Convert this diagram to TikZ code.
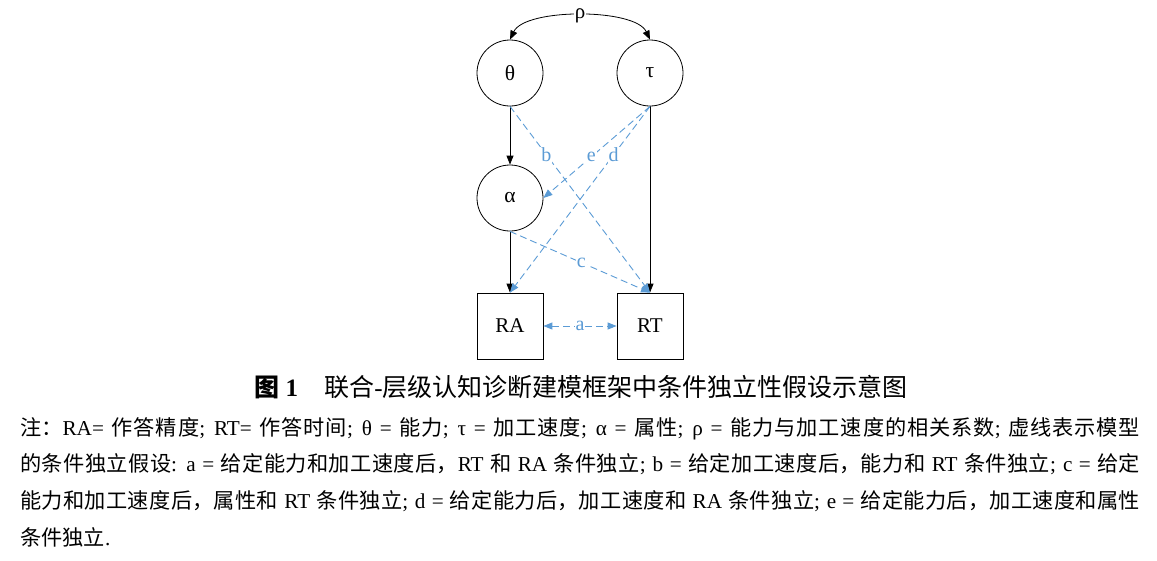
\documentclass[tikz,border=0pt]{standalone}
\usepackage{fontspec}
\setmainfont{Liberation Serif}
\newfontfamily\cjk{Noto Sans CJK SC}
\usetikzlibrary{arrows.meta}
\definecolor{dashblue}{RGB}{91,155,213}
\XeTeXlinebreaklocale "zh"
\XeTeXlinebreakskip=0pt plus 1pt

\begin{document}
\begin{tikzpicture}[x=1pt,y=-1pt,
    latent/.style={circle,draw,minimum size=66pt,inner sep=0pt,line width=0.8pt,font=\fontsize{21.5}{24}\selectfont},
    observed/.style={rectangle,draw,minimum size=66pt,inner sep=0pt,line width=0.8pt,font=\fontsize{21}{24}\selectfont},
    solidarrow/.style={-{Triangle[length=9pt,width=7pt]},line width=0.8pt},
    cond/.style={-{Triangle[length=9pt,width=7pt]},dashblue,line width=0.9pt,dash pattern=on 7pt off 4pt},
    lab/.style={fill=white,text=dashblue,inner sep=1pt,font=\fontsize{20}{22}\selectfont}]
    \useasboundingbox (0,0) rectangle (1157,560);
    % latent and observed variables
    \node[latent] (theta) at (510,73) {θ};
    \node[latent] (tau) at (650,73) {τ};
    \node[latent] (alpha) at (510,198) {α};
    \node[observed] (RA) at (510,326) {RA};
    \node[observed] (RT) at (650,326) {RT};
    % structural paths
    \draw[solidarrow] (theta) -- (alpha);
    \draw[solidarrow] (alpha) -- (RA);
    \draw[solidarrow] (tau) -- (RT);
    \draw[solidarrow,{Triangle[length=9pt,width=7pt]}-{Triangle[length=9pt,width=7pt]}] (theta.north) .. controls (525,8) and (635,8) .. (tau.north) node[pos=0.5,fill=white,inner sep=1pt,font=\fontsize{21}{24}\selectfont] (rho) {ρ};
    % conditional independence assumptions
    \draw[cond] (theta.south) -- node[lab,pos=0.26] {b} (RT.north);
    \draw[cond] (tau.south) -- node[lab,pos=0.55] {e} (alpha.east);
    \draw[cond] (tau.south) -- node[lab,pos=0.26] {d} (RA.north);
    \draw[cond] (alpha.south) -- node[lab,pos=0.51] {c} (RT.north);
    \draw[cond,{Triangle[length=9pt,width=7pt]}-{Triangle[length=9pt,width=7pt]}] (RA) -- node[lab] {a} (RT);
    % caption and note
    \node (caption) at (581,387) {\fontsize{25}{28}\selectfont\textbf{{\cjk 图} 1}\hspace{1.05em}{\cjk 联合}-{\cjk 层级认知诊断建模框架中条件独立性假设示意图}};
    \node[anchor=north west,text width=1120pt,align=justify,inner sep=0pt,font=\fontsize{21.2}{36.8}\selectfont] (note) at (20,417) {%
    {\cjk 注：}RA= {\cjk 作答精度}; RT= {\cjk 作答时间}; θ = {\cjk 能力}; τ = {\cjk 加工速度}; α = {\cjk 属性}; ρ = {\cjk 能力与加工速度的相关系数};\ {\cjk 虚线表示模型}\linebreak
    {\cjk 的条件独立假设}: a = {\cjk 给定能力和加工速度后，}RT {\cjk 和} RA {\cjk 条件独立}; b = {\cjk 给定加工速度后，能力和} RT {\cjk 条件独立}; c = {\cjk 给定}\linebreak
    {\cjk 能力和加工速度后，属性和} RT {\cjk 条件独立}; d = {\cjk 给定能力后，加工速度和} RA {\cjk 条件独立}; e = {\cjk 给定能力后，加工速度和属性}\linebreak
    {\cjk 条件独立}.};
\end{tikzpicture}
\end{document}
